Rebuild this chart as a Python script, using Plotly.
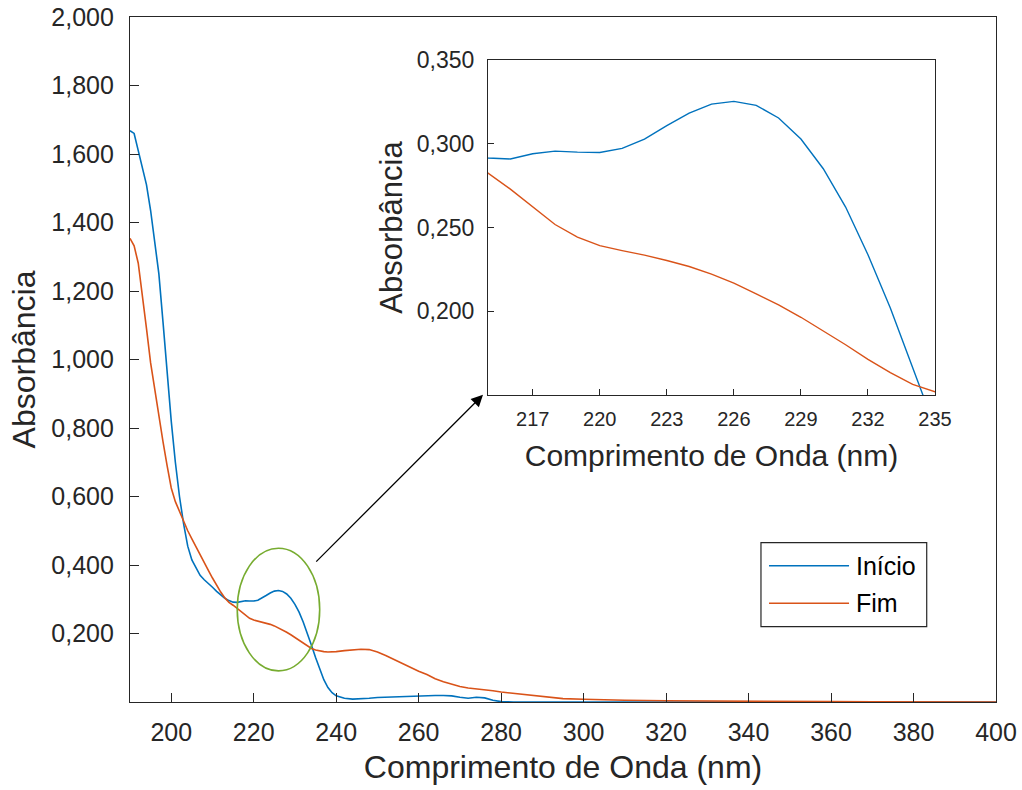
import plotly.graph_objects as go

wavelength = list(range(190, 241)) + [242, 244, 246, 248, 250, 252, 254, 256, 258, 260,
                                      262, 264, 266, 268, 270, 272, 274, 276, 278, 280,
                                      283, 286, 290, 295, 300, 305, 310, 320, 330, 340,
                                      350, 360, 370, 380, 390, 400]

inicio = [1.668, 1.660, 1.610, 1.560, 1.510, 1.435, 1.350, 1.250, 1.110, 0.960,
          0.820, 0.700, 0.600, 0.520, 0.455, 0.415, 0.390, 0.370, 0.357, 0.347,
          0.335, 0.323, 0.312, 0.303, 0.296, 0.2915, 0.2909, 0.2940, 0.2956, 0.2950,
          0.2948, 0.2972, 0.3028, 0.3108, 0.3183, 0.3237, 0.3253, 0.3229, 0.3154, 0.3028,
          0.2851, 0.2622, 0.2337, 0.2019, 0.1660, 0.1300, 0.0950, 0.0650, 0.0420, 0.0270,
          0.0180,
          0.011, 0.0085, 0.009, 0.011, 0.013, 0.014, 0.015, 0.016, 0.018, 0.019,
          0.019, 0.019, 0.019, 0.018, 0.014, 0.011, 0.014, 0.012, 0.005, 0.001,
          0.0, 0.0, 0.0, 0.0, 0.0, 0.0, 0.0, 0.0, 0.0, 0.0,
          0.0, 0.0, 0.0, 0.0, 0.0, 0.0]

fim = [1.354, 1.332, 1.281, 1.190, 1.090, 0.990, 0.910, 0.830, 0.760, 0.690,
       0.625, 0.585, 0.555, 0.525, 0.500, 0.476, 0.452, 0.429, 0.406, 0.384,
       0.362, 0.341, 0.321, 0.304, 0.291, 0.2825, 0.2729, 0.2622, 0.2518, 0.2443,
       0.2392, 0.2362, 0.2335, 0.2303, 0.2267, 0.2222, 0.2168, 0.2104, 0.2038, 0.1964,
       0.1884, 0.1800, 0.1713, 0.1633, 0.1563, 0.1519, 0.1490, 0.1470, 0.1460, 0.1460,
       0.1470,
       0.150, 0.153, 0.154, 0.153, 0.146, 0.136, 0.124, 0.113, 0.101, 0.090,
       0.080, 0.068, 0.059, 0.052, 0.045, 0.041, 0.039, 0.037, 0.033, 0.029,
       0.025, 0.021, 0.016, 0.010, 0.008, 0.006, 0.005, 0.0035, 0.0025, 0.002,
       0.0015, 0.001, 0.0008, 0.0005, 0.0003, 0.0]

series_names = ["Início", "Fim"]
colors = ["#0072BD", "#D95319"]

main_xticks = list(range(200, 401, 20))
main_yticks = [0.2, 0.4, 0.6, 0.8, 1.0, 1.2, 1.4, 1.6, 1.8, 2.0]
inset_xticks = [217, 220, 223, 226, 229, 232, 235]
inset_yticks = [0.20, 0.25, 0.30, 0.35]


def comma(v, d):
    return f"{v:.{d}f}".replace(".", ",")


FONT = "Liberation Sans, Arial, Helvetica, sans-serif"
AX = "#262626"

fig = go.Figure()
for name, ys, c in zip(series_names, [inicio, fim], colors):
    fig.add_trace(go.Scatter(x=wavelength, y=ys, mode="lines", name=name,
                             line=dict(color=c, width=1.6), showlegend=False,
                             xaxis="x", yaxis="y"))
for name, ys, c in zip(series_names, [inicio, fim], colors):
    fig.add_trace(go.Scatter(x=wavelength, y=ys, mode="lines", name=name,
                             line=dict(color=c, width=1.4), showlegend=False,
                             xaxis="x2", yaxis="y2"))

axis_common = dict(showgrid=False, zeroline=False, showline=True, linecolor=AX,
                   linewidth=1.2, mirror=True, ticks="inside", tickcolor=AX,
                   tickwidth=1.2, color=AX, automargin=False)

fig.update_layout(
    width=1022, height=790,
    margin=dict(l=130, r=26, t=17, b=88),
    paper_bgcolor="white", plot_bgcolor="white",
    font=dict(family=FONT, color=AX),
    xaxis=dict(**axis_common, domain=[0, 1], range=[190, 400],
               tickvals=main_xticks, ticktext=[str(t) for t in main_xticks],
               ticklen=9, tickfont=dict(size=25), ticklabelstandoff=8,
               title=dict(text="Comprimento de Onda (nm)", font=dict(size=32), standoff=10)),
    yaxis=dict(**axis_common, domain=[0, 1], range=[0, 2.0],
               tickvals=main_yticks, ticktext=[comma(t, 3) for t in main_yticks],
               ticklen=9, tickfont=dict(size=25), ticklabelstandoff=10,
               title=dict(text="Absorbância", font=dict(size=32), standoff=6)),
    xaxis2=dict(**axis_common, domain=[0.4134, 0.9296], range=[215, 235], anchor="y2",
                tickvals=inset_xticks, ticktext=[str(t) for t in inset_xticks],
                ticklen=6, tickfont=dict(size=20), ticklabelstandoff=6,
                title=dict(text="Comprimento de Onda (nm)", font=dict(size=30), standoff=15)),
    yaxis2=dict(**axis_common, domain=[0.4482, 0.9372], range=[0.15, 0.35], anchor="x2",
                tickvals=inset_yticks, ticktext=[comma(t, 3) for t in inset_yticks],
                ticklen=6, tickfont=dict(size=23), ticklabelstandoff=8,
                title=dict(text="Absorbância", font=dict(size=31), standoff=4)),
)

# highlight ellipse around the zoomed region
fig.add_shape(type="circle", xref="x", yref="y", x0=216, x1=236, y0=0.091, y1=0.449,
              line=dict(color="#77AC30", width=1.6))

# arrow to inset
fig.add_annotation(x=275.6, y=0.897, xref="x", yref="y", ax=234.8, ay=0.4055,
                   axref="x", ayref="y", showarrow=True, arrowhead=2, arrowsize=1.8,
                   arrowwidth=1.3, arrowcolor="black", text="")

# legend box
fig.add_shape(type="rect", xref="paper", yref="paper", x0=0.7286, x1=0.920,
              y0=0.1099, y1=0.2326, line=dict(color=AX, width=1.2), fillcolor="white")
for i, (name, c) in enumerate(zip(series_names, colors)):
    yy = 0.199 if i == 0 else 0.1441
    fig.add_shape(type="line", xref="paper", yref="paper", x0=0.7379, x1=0.8303,
                  y0=yy, y1=yy, line=dict(color=c, width=1.6))
    fig.add_annotation(x=0.836, y=yy, xref="paper", yref="paper", text=name,
                       showarrow=False, xanchor="left", yanchor="middle",
                       font=dict(size=25, color="black", family=FONT))

fig.write_html("out.html")
